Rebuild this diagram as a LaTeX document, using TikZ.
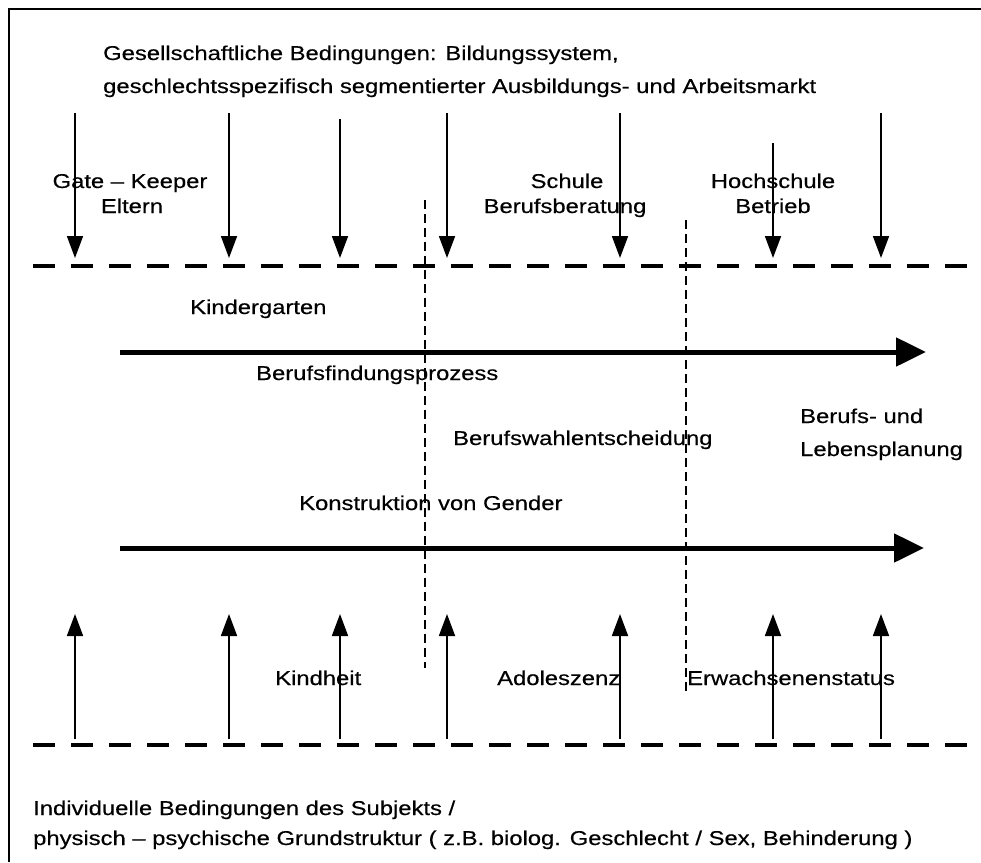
\documentclass[tikz,border=0pt]{standalone}
\usepackage{fontspec}
\setmainfont{Liberation Sans}[FakeStretch=1.19,FakeBold=0.4]
\usetikzlibrary{arrows.meta}
\begin{document}
\begin{tikzpicture}[x=1pt,y=-1pt,
  lbl/.style={font=\fontsize{20}{24}\selectfont, inner sep=0pt, anchor=base west},
  clbl/.style={lbl, anchor=base},
  thinarrow/.style={line width=1.8pt, -{Triangle[length=22pt,width=16pt]}},
  thickarrow/.style={line width=5pt, -{Triangle[length=30pt,width=28pt]}},
  bigdash/.style={line width=4pt, dash pattern=on 22pt off 16pt},
  phase/.style={line width=1.6pt, dash pattern=on 9pt off 5pt}]
\useasboundingbox (0,0) rectangle (981,862);
% frame
\draw[line width=2.5pt] (9,862) -- (9,9) -- (981,9);

% texts
\node[lbl] (soc1) at (103,60) {Gesellschaftliche Bedingungen: Bildungssystem,};
\node[lbl] (soc2) at (103,93) {geschlechtsspezifisch segmentierter Ausbildungs- und Arbeitsmarkt};
\node[clbl] (gate) at (130,188) {Gate – Keeper};
\node[clbl] (eltern) at (132,213) {Eltern};
\node[clbl] (schule) at (567,188) {Schule};
\node[clbl] (beratung) at (565,213) {Berufsberatung};
\node[clbl] (hoch) at (773,188) {Hochschule};
\node[clbl] (betrieb) at (773,213) {Betrieb};
\node[lbl] (kiga) at (190,314) {Kindergarten};
\node[lbl] (findung) at (256,380) {Berufsfindungsprozess};
\node[lbl] (plan1) at (800,423) {Berufs- und};
\node[lbl] (plan2) at (800,456) {Lebensplanung};
\node[lbl] (wahl) at (453,445) {Berufswahlentscheidung};
\node[lbl] (gender) at (299,510) {Konstruktion von Gender};
\node[lbl] (kindheit) at (275,685) {Kindheit};
\node[lbl] (adol) at (497,685) {Adoleszenz};
\node[lbl] (erw) at (687,685) {Erwachsenenstatus};
\node[lbl] (ind1) at (33,815) {Individuelle Bedingungen des Subjekts /};
\node[lbl] (ind2) at (33,845) {physisch – psychische Grundstruktur ( z.B. biolog. Geschlecht / Sex, Behinderung )};

% dashed boundaries
\coordinate (ul) at (33,266); \coordinate (ur) at (972,266);
\coordinate (ll) at (33,745); \coordinate (lr) at (972,745);
\draw[bigdash] (ul) -- (ur);
\draw[bigdash] (ll) -- (lr);

% phase separators
\coordinate (p1t) at (425,200); \coordinate (p1b) at (425,668);
\coordinate (p2t) at (686,220); \coordinate (p2b) at (686,692);
\draw[phase] (p1t) -- (p1b);
\draw[phase] (p2t) -- (p2b);

% main process arrows
\coordinate (a1s) at (120,352); \coordinate (a1e) at (926,352);
\coordinate (a2s) at (120,548); \coordinate (a2e) at (924,548);
\draw[thickarrow] (a1s) -- (a1e);
\draw[thickarrow] (a2s) -- (a2e);

% down arrows
\foreach \i/\x/\t in {1/75/113, 2/229/113, 3/340/119, 4/447/113, 5/620/113, 6/773/143, 7/881/113}{
  \coordinate (d\i s) at (\x,\t);
  \coordinate (d\i e) at (\x,258);
  \draw[thinarrow] (d\i s) -- (d\i e);
}
% up arrows
\foreach \i/\x in {1/75, 2/229, 3/340, 4/447, 5/620, 6/773, 7/881}{
  \coordinate (u\i s) at (\x,739);
  \coordinate (u\i e) at (\x,614);
  \draw[thinarrow] (u\i s) -- (u\i e);
}
\end{tikzpicture}
\end{document}
